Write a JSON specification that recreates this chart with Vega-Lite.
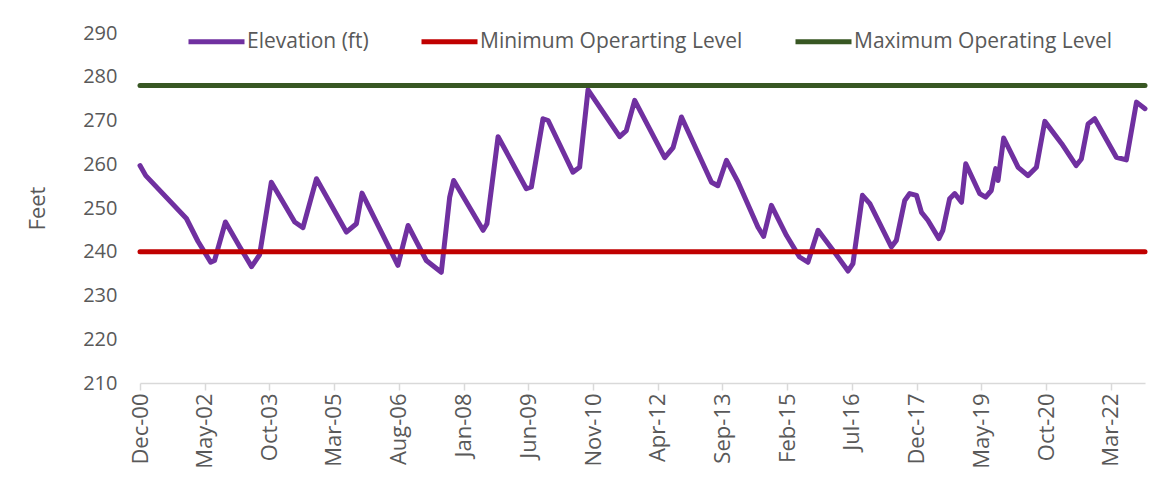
{
  "$schema": "https://vega.github.io/schema/vega-lite/v6.json",
  "autosize": {"type": "none"},
  "width": 1005,
  "height": 350,
  "padding": {"left": 140, "top": 33, "right": 28, "bottom": 121},
  "background": "white",
  "config": {"view": {"stroke": null}, "font": "Open Sans"},
  "data": {
    "format": {"parse": {"date": "date:'%Y-%m-%d'"}},
    "values": [
      {"date": "2000-12-01", "series": "Elevation (ft)", "value": 259.7},
      {"date": "2001-01-16", "series": "Elevation (ft)", "value": 257.4},
      {"date": "2001-12-07", "series": "Elevation (ft)", "value": 247.6},
      {"date": "2002-03-09", "series": "Elevation (ft)", "value": 242.4},
      {"date": "2002-06-19", "series": "Elevation (ft)", "value": 237.6},
      {"date": "2002-07-20", "series": "Elevation (ft)", "value": 238.0},
      {"date": "2002-10-15", "series": "Elevation (ft)", "value": 246.8},
      {"date": "2003-02-07", "series": "Elevation (ft)", "value": 241.1},
      {"date": "2003-05-12", "series": "Elevation (ft)", "value": 236.6},
      {"date": "2003-07-15", "series": "Elevation (ft)", "value": 239.3},
      {"date": "2003-10-17", "series": "Elevation (ft)", "value": 255.9},
      {"date": "2004-04-21", "series": "Elevation (ft)", "value": 246.8},
      {"date": "2004-06-26", "series": "Elevation (ft)", "value": 245.5},
      {"date": "2004-10-12", "series": "Elevation (ft)", "value": 256.7},
      {"date": "2005-06-08", "series": "Elevation (ft)", "value": 244.5},
      {"date": "2005-08-27", "series": "Elevation (ft)", "value": 246.4},
      {"date": "2005-10-11", "series": "Elevation (ft)", "value": 253.4},
      {"date": "2006-07-25", "series": "Elevation (ft)", "value": 236.9},
      {"date": "2006-10-14", "series": "Elevation (ft)", "value": 246.0},
      {"date": "2007-03-09", "series": "Elevation (ft)", "value": 238.0},
      {"date": "2007-07-07", "series": "Elevation (ft)", "value": 235.3},
      {"date": "2007-09-12", "series": "Elevation (ft)", "value": 252.5},
      {"date": "2007-10-14", "series": "Elevation (ft)", "value": 256.3},
      {"date": "2008-06-05", "series": "Elevation (ft)", "value": 244.9},
      {"date": "2008-07-06", "series": "Elevation (ft)", "value": 246.4},
      {"date": "2008-10-03", "series": "Elevation (ft)", "value": 266.3},
      {"date": "2009-05-17", "series": "Elevation (ft)", "value": 254.4},
      {"date": "2009-06-26", "series": "Elevation (ft)", "value": 254.8},
      {"date": "2009-09-27", "series": "Elevation (ft)", "value": 270.4},
      {"date": "2009-11-07", "series": "Elevation (ft)", "value": 270.0},
      {"date": "2010-05-24", "series": "Elevation (ft)", "value": 258.2},
      {"date": "2010-07-17", "series": "Elevation (ft)", "value": 259.3},
      {"date": "2010-09-22", "series": "Elevation (ft)", "value": 277.0},
      {"date": "2011-06-02", "series": "Elevation (ft)", "value": 266.3},
      {"date": "2011-07-25", "series": "Elevation (ft)", "value": 267.7},
      {"date": "2011-09-30", "series": "Elevation (ft)", "value": 274.6},
      {"date": "2012-05-27", "series": "Elevation (ft)", "value": 261.5},
      {"date": "2012-08-02", "series": "Elevation (ft)", "value": 263.8},
      {"date": "2012-10-08", "series": "Elevation (ft)", "value": 270.8},
      {"date": "2013-06-05", "series": "Elevation (ft)", "value": 255.9},
      {"date": "2013-07-26", "series": "Elevation (ft)", "value": 255.1},
      {"date": "2013-10-03", "series": "Elevation (ft)", "value": 260.9},
      {"date": "2014-01-04", "series": "Elevation (ft)", "value": 255.9},
      {"date": "2014-06-12", "series": "Elevation (ft)", "value": 245.6},
      {"date": "2014-07-27", "series": "Elevation (ft)", "value": 243.5},
      {"date": "2014-09-27", "series": "Elevation (ft)", "value": 250.6},
      {"date": "2015-01-26", "series": "Elevation (ft)", "value": 243.7},
      {"date": "2015-05-10", "series": "Elevation (ft)", "value": 238.8},
      {"date": "2015-07-16", "series": "Elevation (ft)", "value": 237.6},
      {"date": "2015-10-05", "series": "Elevation (ft)", "value": 244.9},
      {"date": "2016-02-03", "series": "Elevation (ft)", "value": 240.3},
      {"date": "2016-06-01", "series": "Elevation (ft)", "value": 235.6},
      {"date": "2016-07-10", "series": "Elevation (ft)", "value": 237.3},
      {"date": "2016-09-24", "series": "Elevation (ft)", "value": 252.9},
      {"date": "2016-11-22", "series": "Elevation (ft)", "value": 251.0},
      {"date": "2017-05-13", "series": "Elevation (ft)", "value": 241.1},
      {"date": "2017-06-22", "series": "Elevation (ft)", "value": 242.6},
      {"date": "2017-08-28", "series": "Elevation (ft)", "value": 251.7},
      {"date": "2017-10-07", "series": "Elevation (ft)", "value": 253.3},
      {"date": "2017-11-30", "series": "Elevation (ft)", "value": 252.9},
      {"date": "2018-01-09", "series": "Elevation (ft)", "value": 249.0},
      {"date": "2018-03-01", "series": "Elevation (ft)", "value": 247.2},
      {"date": "2018-05-28", "series": "Elevation (ft)", "value": 243.0},
      {"date": "2018-06-29", "series": "Elevation (ft)", "value": 244.9},
      {"date": "2018-08-22", "series": "Elevation (ft)", "value": 252.1},
      {"date": "2018-10-02", "series": "Elevation (ft)", "value": 253.3},
      {"date": "2018-11-25", "series": "Elevation (ft)", "value": 251.3},
      {"date": "2018-12-29", "series": "Elevation (ft)", "value": 260.1},
      {"date": "2019-04-19", "series": "Elevation (ft)", "value": 253.3},
      {"date": "2019-06-06", "series": "Elevation (ft)", "value": 252.5},
      {"date": "2019-07-21", "series": "Elevation (ft)", "value": 254.0},
      {"date": "2019-08-25", "series": "Elevation (ft)", "value": 259.0},
      {"date": "2019-09-13", "series": "Elevation (ft)", "value": 256.3},
      {"date": "2019-10-28", "series": "Elevation (ft)", "value": 266.0},
      {"date": "2020-02-21", "series": "Elevation (ft)", "value": 259.3},
      {"date": "2020-05-09", "series": "Elevation (ft)", "value": 257.4},
      {"date": "2020-07-16", "series": "Elevation (ft)", "value": 259.3},
      {"date": "2020-09-21", "series": "Elevation (ft)", "value": 269.8},
      {"date": "2021-02-03", "series": "Elevation (ft)", "value": 264.7},
      {"date": "2021-05-30", "series": "Elevation (ft)", "value": 259.7},
      {"date": "2021-07-10", "series": "Elevation (ft)", "value": 261.2},
      {"date": "2021-09-02", "series": "Elevation (ft)", "value": 269.2},
      {"date": "2021-10-25", "series": "Elevation (ft)", "value": 270.4},
      {"date": "2022-04-16", "series": "Elevation (ft)", "value": 261.6},
      {"date": "2022-07-05", "series": "Elevation (ft)", "value": 261.0},
      {"date": "2022-09-24", "series": "Elevation (ft)", "value": 274.2},
      {"date": "2022-12-01", "series": "Elevation (ft)", "value": 272.7},
      {"date": "2000-12-01", "series": "Minimum Operarting Level", "value": 240},
      {"date": "2022-12-01", "series": "Minimum Operarting Level", "value": 240},
      {"date": "2000-12-01", "series": "Maximum Operating Level", "value": 278},
      {"date": "2022-12-01", "series": "Maximum Operating Level", "value": 278}
    ]
  },
  "encoding": {
    "x": {
      "field": "date",
      "type": "temporal",
      "scale": {"domain": [{"year": 2000, "month": 12, "date": 1}, {"year": 2022, "month": 12, "date": 1}], "nice": false},
      "axis": {
        "title": null,
        "values": [
          {"year": 2000, "month": 12, "date": 1},
          {"year": 2002, "month": 5, "date": 1},
          {"year": 2003, "month": 10, "date": 1},
          {"year": 2005, "month": 3, "date": 1},
          {"year": 2006, "month": 8, "date": 1},
          {"year": 2008, "month": 1, "date": 1},
          {"year": 2009, "month": 6, "date": 1},
          {"year": 2010, "month": 11, "date": 1},
          {"year": 2012, "month": 4, "date": 1},
          {"year": 2013, "month": 9, "date": 1},
          {"year": 2015, "month": 2, "date": 1},
          {"year": 2016, "month": 7, "date": 1},
          {"year": 2017, "month": 12, "date": 1},
          {"year": 2019, "month": 5, "date": 1},
          {"year": 2020, "month": 10, "date": 1},
          {"year": 2022, "month": 3, "date": 1}
        ],
        "format": "%b-%y",
        "labelAngle": -90,
        "labelFontSize": 22,
        "labelColor": "#595959",
        "labelPadding": 3,
        "labelFont": "Open Sans",
        "tickColor": "#D9D9D9",
        "tickSize": 7,
        "tickWidth": 1.5,
        "domainColor": "#D9D9D9",
        "domainWidth": 1.5,
        "grid": false,
        "labelOverlap": false,
        "labelFlush": false
      }
    },
    "y": {
      "field": "value",
      "type": "quantitative",
      "scale": {"domain": [210, 290], "nice": false, "zero": false},
      "axis": {
        "title": "Feet",
        "titleFontSize": 22,
        "titleFontWeight": "normal",
        "titleColor": "#595959",
        "titleFont": "Open Sans",
        "titlePadding": 33,
        "values": [210, 220, 230, 240, 250, 260, 270, 280, 290],
        "labelFontSize": 20,
        "labelColor": "#595959",
        "labelFont": "Open Sans",
        "labelPadding": 23,
        "ticks": false,
        "domain": false,
        "grid": false
      }
    },
    "color": {
      "field": "series",
      "type": "nominal",
      "scale": {
        "domain": ["Elevation (ft)", "Minimum Operarting Level", "Maximum Operating Level"],
        "range": ["#7030A0", "#C00000", "#385723"]
      },
      "legend": {
        "title": null,
        "orient": "none",
        "direction": "horizontal",
        "legendX": 46,
        "legendY": -22,
        "symbolType": "stroke",
        "symbolSize": 3136,
        "symbolStrokeWidth": 5,
        "labelFontSize": 21,
        "labelFont": "Open Sans",
        "labelColor": "#595959",
        "labelOffset": 0,
        "columnPadding": 42,
        "labelLimit": 400
      }
    }
  },
  "layer": [
    {
      "transform": [{"filter": "datum.series === 'Elevation (ft)'"}],
      "mark": {"type": "line", "strokeWidth": 5, "strokeCap": "round", "strokeJoin": "round"}
    },
    {
      "transform": [{"filter": "datum.series !== 'Elevation (ft)'"}],
      "mark": {"type": "line", "strokeWidth": 5, "strokeCap": "round"}
    }
  ]
}
